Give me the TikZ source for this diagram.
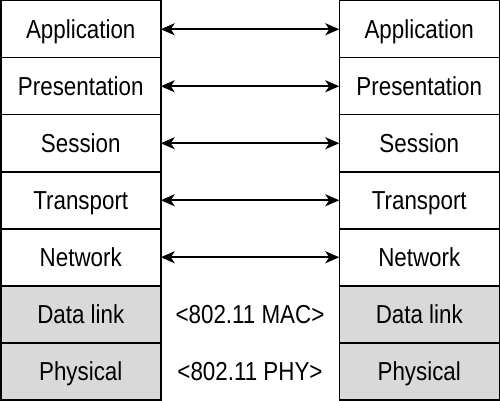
\documentclass[tikz,border=0pt]{standalone}
\usepackage{fontspec}
\setmainfont[FakeStretch=0.86]{Liberation Sans}
\usetikzlibrary{arrows.meta,positioning,calc}

\begin{document}
\begin{tikzpicture}[
  x=1pt, y=1pt,
  node distance=0pt,
  every node/.style={font=\fontsize{26}{30}\selectfont, text height=18.6pt, text depth=0pt},
  layer/.style={draw, line width=1.5pt, outer sep=0pt, minimum width=160pt, minimum height=57pt, inner sep=0pt, align=center},
  upper/.style={layer, fill=white},
  lower/.style={layer, fill=black!15},
  arr/.style={{Stealth[length=14pt, width=12pt, inset=4pt]}-{Stealth[length=14pt, width=12pt, inset=4pt]}, line width=2pt}
]
\useasboundingbox (0,0) rectangle (500,-401);

% left stack
\node[upper] (l1) at (80.75,-29.25) {Application};
\node[upper, below=of l1] (l2) {Presentation};
\node[upper, below=of l2] (l3) {Session};
\node[upper, below=of l3] (l4) {Transport};
\node[upper, below=of l4] (l5) {Network};
\node[lower, below=of l5] (l6) {Data link};
\node[lower, below=of l6] (l7) {Physical};

% right stack
\node[upper] (r1) at (419.25,-29.25) {Application};
\node[upper, below=of r1] (r2) {Presentation};
\node[upper, below=of r2] (r3) {Session};
\node[upper, below=of r3] (r4) {Transport};
\node[upper, below=of r4] (r5) {Network};
\node[lower, below=of r5] (r6) {Data link};
\node[lower, below=of r6] (r7) {Physical};

\draw[arr] (l1) -- (r1);
\draw[arr] (l2) -- (r2);
\draw[arr] (l3) -- (r3);
\draw[arr] (l4) -- (r4);
\draw[arr] (l5) -- (r5);

\node (mac) at ($(l6)!0.5!(r6)$) {<802.11 MAC>};
\node (phy) at ($(l7)!0.5!(r7)$) {<802.11 PHY>};
\end{tikzpicture}
\end{document}
